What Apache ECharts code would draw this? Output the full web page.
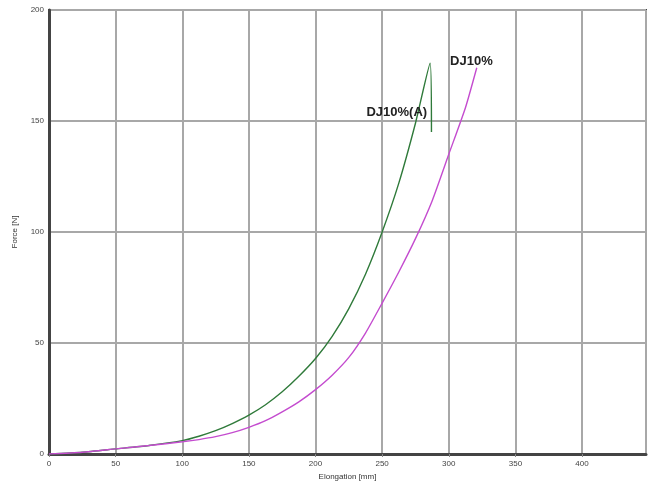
<!DOCTYPE html>
<html>
<head>
<meta charset="utf-8">
<script src="https://cdn.jsdelivr.net/npm/echarts@6/dist/echarts.min.js"></script>
<style>html,body{margin:0;padding:0;background:#fff}#c{width:651px;height:488px}</style>
</head>
<body>
<div id="c"></div>
<script>
var greenX = [0, 25, 50, 75, 100, 112.5, 125, 137.5, 150, 162.5, 175, 187.5, 200, 212.5, 225, 237.5, 250, 262.5, 275, 286, 287];
var greenY = [0, 0.8, 2.3, 3.8, 6, 8, 10.5, 13.7, 17.5, 22.2, 28, 35, 43, 53, 65.5, 81, 100, 122, 149, 176, 145];
var magentaX = [0, 25, 50, 75, 100, 112.5, 125, 137.5, 150, 162.5, 175, 187.5, 200, 212.5, 225, 237.5, 250, 262.5, 275, 287.5, 300, 312.5, 321];
var magentaY = [0, 0.8, 2.3, 3.8, 5.5, 6.5, 7.8, 9.6, 12, 15, 19, 23.5, 29, 35.5, 43.5, 54.5, 68, 82, 97, 114, 135, 156, 174];
var seriesNames = ['DJ10%(A)', 'DJ10%'];
var xTicks = [0, 50, 100, 150, 200, 250, 300, 350, 400];
var yTicks = [0, 50, 100, 150, 200];

function pairs(xs, ys){ return xs.map(function(x,i){ return [x, ys[i]]; }); }

var chart = echarts.init(document.getElementById('c'));
chart.setOption({
  animation: false,
  grid: { left: 49, top: 10, right: 5, bottom: 34, show: true, borderColor: '#444', borderWidth: 2 },
  xAxis: {
    type: 'value', min: 0, max: 448, interval: 50,
    name: 'Elongation [mm]', nameLocation: 'middle', nameGap: 16,
    nameTextStyle: { fontSize: 8, color: '#333', fontFamily: 'Arial' },
    axisLine: { show: true, onZero: false, lineStyle: { color: '#444', width: 3 } },
    axisTick: { show: true, length: 3, lineStyle: { color: '#888' } },
    axisLabel: { showMaxLabel: false, fontSize: 8, color: '#444', margin: 6, fontFamily: 'Arial',
      formatter: function(v){ return xTicks.indexOf(v) >= 0 ? String(v) : ''; } },
    splitLine: { show: true, lineStyle: { color: '#a8a8a8', width: 2 } }
  },
  yAxis: {
    type: 'value', min: 0, max: 200, interval: 50,
    name: 'Force [N]', nameLocation: 'middle', nameGap: 30, nameRotate: 90,
    nameTextStyle: { fontSize: 8, color: '#333', fontFamily: 'Arial' },
    axisLine: { show: true, onZero: false, lineStyle: { color: '#444', width: 3 } },
    axisTick: { show: false },
    axisLabel: { fontSize: 8, color: '#444', margin: 5, fontFamily: 'Arial',
      formatter: function(v){ return yTicks.indexOf(v) >= 0 ? String(v) : ''; } },
    splitLine: { show: true, lineStyle: { color: '#a8a8a8', width: 2 } }
  },
  series: [
    {
      name: seriesNames[0], type: 'line', data: pairs(greenX, greenY),
      showSymbol: false, smooth: 0.2, lineStyle: { color: '#2f7a3a', width: 1.4 },
      markPoint: {
        symbol: 'circle', symbolSize: 0,
        label: { show: true, formatter: seriesNames[0], fontSize: 13, fontWeight: 'bold', color: '#222', fontFamily: 'Arial' },
        data: [{ coord: [261, 154] }]
      }
    },
    {
      name: seriesNames[1], type: 'line', data: pairs(magentaX, magentaY),
      showSymbol: false, smooth: 0.2, lineStyle: { color: '#c44ccf', width: 1.4 },
      markPoint: {
        symbol: 'circle', symbolSize: 0,
        label: { show: true, formatter: seriesNames[1], fontSize: 13, fontWeight: 'bold', color: '#222', fontFamily: 'Arial' },
        data: [{ coord: [317, 177] }]
      }
    }
  ]
});
</script>
</body>
</html>
